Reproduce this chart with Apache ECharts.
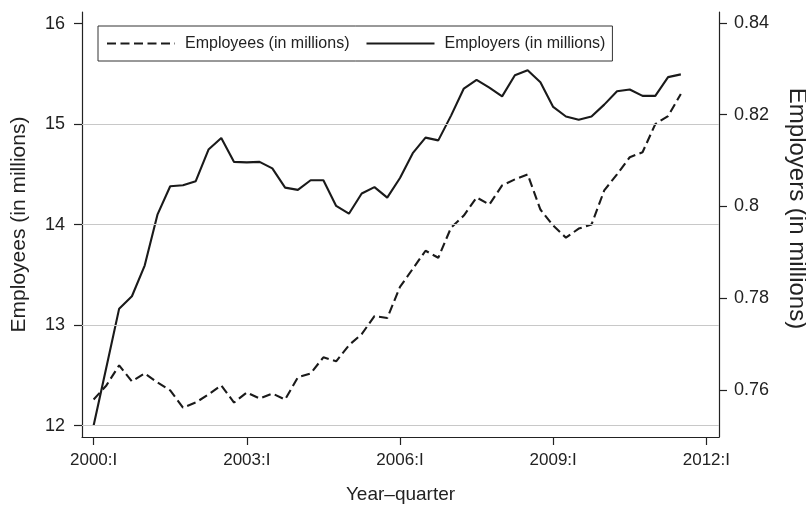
<!DOCTYPE html>
<html>
<head>
<meta charset="utf-8">
<script src="https://cdn.jsdelivr.net/npm/echarts@6/dist/echarts.min.js"></script>
<style>
  html, body { margin: 0; padding: 0; background: #fff; }
  #chart { width: 806px; height: 505px; }
</style>
</head>
<body>
<div id="chart"></div>
<script>
// Quarterly series, 2000:I to 2011:III
const quarters = [];
for (let y = 2000; y <= 2011; y++) {
  ['I', 'II', 'III', 'IV'].forEach(q => quarters.push(y + ':' + q));
}
quarters.length = 47;

// Employees (in millions), left axis
const employees = [
  12.26, 12.40, 12.60, 12.44, 12.52, 12.43, 12.35, 12.18, 12.23, 12.31,
  12.40, 12.23, 12.33, 12.27, 12.32, 12.26, 12.48, 12.52, 12.68, 12.64,
  12.80, 12.91, 13.09, 13.07, 13.38, 13.56, 13.74, 13.67, 13.97, 14.09,
  14.27, 14.20, 14.39, 14.45, 14.50, 14.15, 13.99, 13.87, 13.96, 14.00,
  14.34, 14.50, 14.67, 14.72, 15.00, 15.08, 15.30
];

// Employers (in millions), right axis
const employers = [
  0.7522, 0.7649, 0.7777, 0.7804, 0.7871, 0.7982, 0.8044, 0.8046, 0.8055, 0.8124,
  0.8149, 0.8097, 0.8096, 0.8097, 0.8083, 0.8041, 0.8036, 0.8057, 0.8057, 0.8001,
  0.7984, 0.8028, 0.8042, 0.8019, 0.8062, 0.8116, 0.8150, 0.8144, 0.8198, 0.8257,
  0.8276, 0.8259, 0.8240, 0.8286, 0.8297, 0.8271, 0.8217, 0.8196, 0.8189, 0.8196,
  0.8222, 0.8251, 0.8255, 0.8241, 0.8241, 0.8282, 0.8288
];

// Axis ticks
const xTickIndex = [0, 12, 24, 36, 48];
const xTickLabels = ['2000:I', '2003:I', '2006:I', '2009:I', '2012:I'];
const leftTicks = [12, 13, 14, 15, 16];
const rightTicks = [0.76, 0.78, 0.80, 0.82, 0.84];
const gridValues = [12, 13, 14, 15];

const ink = '#222';
const font = 'Liberation Sans, Arial, Helvetica, sans-serif';

const chart = echarts.init(document.getElementById('chart'), null, { renderer: 'canvas' });

chart.setOption({
  backgroundColor: '#fff',
  animation: false,
  textStyle: { fontFamily: font, color: ink },
  grid: { left: 82, right: 87, top: 12, bottom: 68, containLabel: false, outerBoundsMode: 'none' },
  legend: {
    data: ['Employees (in millions)', 'Employers (in millions)'],
    left: 98,
    top: 26,
    orient: 'horizontal',
    backgroundColor: '#fff',
    borderColor: '#333',
    borderWidth: 1,
    padding: [9, 7, 9, 8],
    itemWidth: 68,
    itemHeight: 14,
    itemGap: 16,
    itemStyle: { opacity: 0 },
    textStyle: { fontSize: 16, color: ink, lineHeight: 17, padding: [0, 0, 0, 5], fontFamily: font }
  },
  xAxis: {
    type: 'value',
    min: -0.91,
    max: 48.99,
    name: 'Year\u2013quarter',
    nameLocation: 'middle',
    nameGap: 48,
    nameTextStyle: { fontSize: 19, color: ink, fontFamily: font },
    axisLine: { show: true, onZero: false, lineStyle: { color: ink, width: 1.2 } },
    axisTick: { show: true, length: 8, customValues: xTickIndex, lineStyle: { color: ink, width: 1.2 } },
    axisLabel: {
      customValues: xTickIndex,
      margin: 15,
      fontSize: 17,
      color: ink,
      formatter: v => xTickLabels[xTickIndex.indexOf(Math.round(v))] || ''
    },
    splitLine: { show: false }
  },
  yAxis: [
    {
      type: 'value',
      position: 'left',
      min: 11.887,
      max: 16.115,
      name: 'Employees (in millions)',
      nameLocation: 'middle',
      nameGap: 52,
      nameRotate: 90,
      nameTextStyle: { fontSize: 21, color: ink, fontFamily: font },
      axisLine: { show: true, onZero: false, lineStyle: { color: ink, width: 1.2 } },
      axisTick: { show: true, length: 8, customValues: leftTicks, lineStyle: { color: ink, width: 1.2 } },
      axisLabel: { customValues: leftTicks, margin: 17, fontSize: 18, color: ink },
      splitLine: { show: false }
    },
    {
      type: 'value',
      position: 'right',
      min: 0.7497,
      max: 0.8424,
      name: 'Employers (in millions)',
      nameLocation: 'middle',
      nameGap: 66,
      nameRotate: -90,
      nameTextStyle: { fontSize: 24, color: ink, fontFamily: font, padding: [0, 32, 0, 0] },
      axisLine: { show: true, onZero: false, lineStyle: { color: ink, width: 1.2 } },
      axisTick: { show: true, length: 8, customValues: rightTicks, lineStyle: { color: ink, width: 1.2 } },
      axisLabel: {
        customValues: rightTicks,
        margin: 15,
        fontSize: 18,
        color: ink,
        formatter: v => String(+v.toFixed(2))
      },
      splitLine: { show: false }
    }
  ],
  series: [
    {
      // horizontal reference lines at the left-axis ticks
      name: 'grid',
      type: 'line',
      yAxisIndex: 0,
      data: [],
      silent: true,
      z: 1,
      markLine: {
        silent: true,
        symbol: 'none',
        label: { show: false },
        lineStyle: { color: '#c8c8c8', width: 1.2, type: 'solid' },
        data: gridValues.map(v => ({ yAxis: v }))
      }
    },
    {
      name: 'Employees (in millions)',
      type: 'line',
      yAxisIndex: 0,
      z: 3,
      symbol: 'none',
      data: employees.map((v, i) => [i, v]),
      lineStyle: { color: '#1a1a1a', width: 2.1, type: [9, 4.5] },
      itemStyle: { color: '#1a1a1a' }
    },
    {
      name: 'Employers (in millions)',
      type: 'line',
      yAxisIndex: 1,
      z: 3,
      symbol: 'none',
      data: employers.map((v, i) => [i, v]),
      lineStyle: { color: '#1a1a1a', width: 2.1, type: 'solid' },
      itemStyle: { color: '#1a1a1a' }
    }
  ]
});
</script>
</body>
</html>
